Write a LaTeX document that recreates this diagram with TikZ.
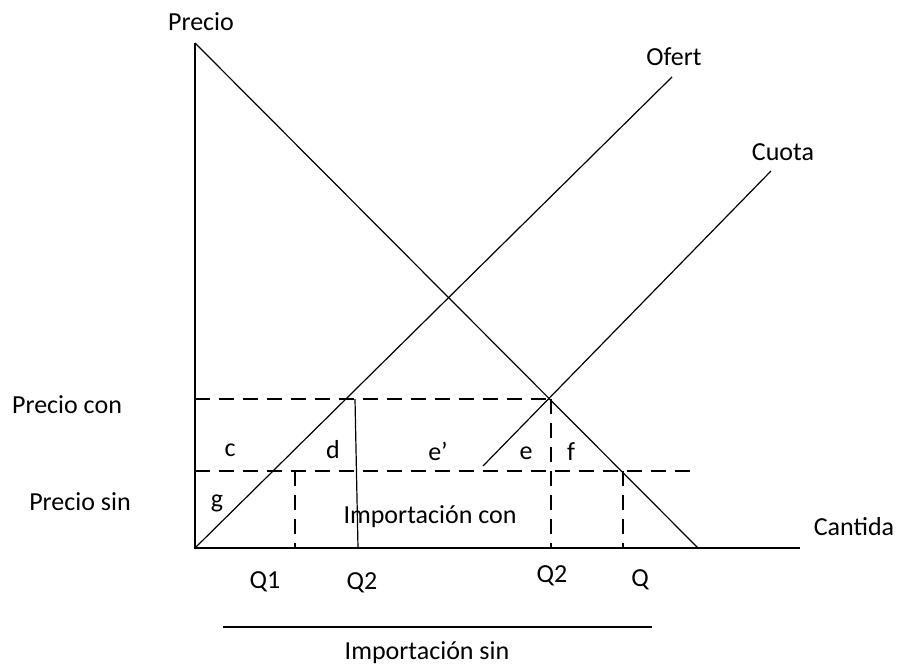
\documentclass[tikz,border=0pt]{standalone}
\usepackage{fontspec}
\setmainfont{Carlito}
\begin{document}
\begin{tikzpicture}[x=1pt,y=-1pt,
  solidline/.style={line width=1.2pt,black},
  dashline/.style={line width=1.2pt,black,dash pattern=on 15pt off 9pt},
  lbl/.style={inner sep=0pt,font=\fontsize{26}{30}\selectfont}]
\useasboundingbox (0,0) rectangle (898,666);
% coordinates
\coordinate (O) at (195,548);
\coordinate (Ytop) at (195,43);
\coordinate (Xend) at (800,548);
\coordinate (Dend) at (698,548);
\coordinate (Send) at (672,77);
\coordinate (Cstart) at (483,466);
\coordinate (Cend) at (771,171);
\coordinate (PconL) at (195,399);
\coordinate (PconR) at (550,399);
\coordinate (PsinL) at (195,471);
\coordinate (PsinR) at (698,471);
\coordinate (Q1t) at (295,471);
\coordinate (Q1b) at (295,548);
\coordinate (Q2at) at (355,399);
\coordinate (Q2ab) at (358,548);
\coordinate (Q2bt) at (551,399);
\coordinate (Q2bb) at (551,548);
\coordinate (Qt) at (623,471);
\coordinate (Qb) at (623,548);
\coordinate (Bl) at (223,627);
\coordinate (Br) at (652,627);
% axes
\draw[solidline] (Ytop) -- (O) -- (Xend);
% demand, supply, quota
\draw[solidline] (Ytop) -- (Dend);
\draw[solidline] (O) -- (Send);
\draw[solidline] (Cstart) -- (Cend);
% dashed price lines
\draw[dashline] (PconL) -- (PconR);
\draw[dashline] (PsinL) -- (PsinR);
% verticals
\draw[dashline] (Q1t) -- (Q1b);
\draw[solidline] (Q2at) -- (Q2ab);
\draw[dashline] (Q2bt) -- (Q2bb);
\draw[dashline] (Qt) -- (Qb);
% bottom line
\draw[solidline] (Bl) -- (Br);
% labels
\node[lbl] (precio) at (201,22) {Precio};
\node[lbl] (ofert) at (674,57) {Ofert};
\node[lbl] (cuota) at (783,152) {Cuota};
\node[lbl] (pcon) at (67,405) {Precio con};
\node[lbl] (psin) at (80,502) {Precio sin};
\node[lbl] (c) at (230,450) {c};
\node[lbl] (d) at (333,450) {d};
\node[lbl] (ep) at (438,451) {e’};
\node[lbl] (e) at (526,453) {e};
\node[lbl] (f) at (571,452) {f};
\node[lbl] (g) at (217,503) {g};
\node[lbl] (impcon) at (430,517) {Importación con};
\node[lbl] (cantida) at (854,527) {Cantida};
\node[lbl] (q1) at (265,582) {Q1};
\node[lbl] (q2a) at (362,583) {Q2};
\node[lbl] (q2b) at (552,576) {Q2};
\node[lbl] (q) at (640,580) {Q};
\node[lbl,anchor=base] (impsin) at (427,659) {Importación sin};
\end{tikzpicture}
\end{document}
